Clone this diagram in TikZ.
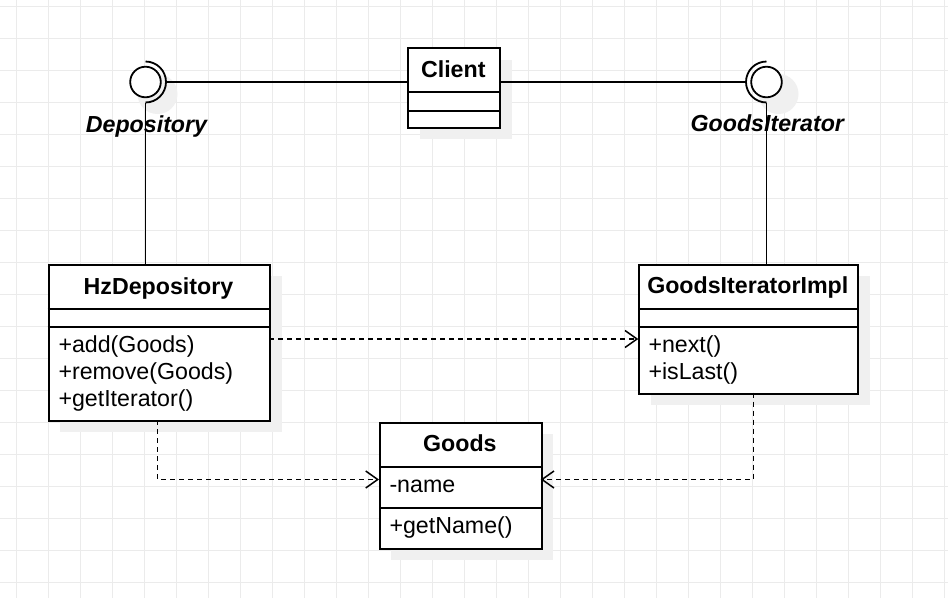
\documentclass[tikz,border=0pt]{standalone}
\usepackage{fontspec}
\setmainfont{Liberation Sans}
\usetikzlibrary{arrows.meta,calc}
\definecolor{gridc}{HTML}{EBEBEB}
\definecolor{shadowc}{HTML}{F0F0F0}
\begin{document}
\begin{tikzpicture}[x=1pt,y=1pt,
  box/.style={draw, line width=1.8pt, fill=white, inner sep=0pt, anchor=north west},
  shadowbox/.style={fill=shadowc, draw=none, inner sep=0pt, anchor=north west},
  hdr/.style={font=\bfseries\fontsize{23.2}{27}\selectfont, anchor=base, inner sep=0pt},
  mem/.style={font=\fontsize{23.2}{27}\selectfont, anchor=base west, inner sep=0pt},
  lbl/.style={font=\bfseries\itshape\fontsize{23.2}{27}\selectfont, anchor=base, inner sep=0pt},
  divider/.style={line width=1.8pt},
  conn/.style={line width=1.8pt},
  dep/.style={line width=1.5pt, dash pattern=on 5pt off 4pt, -{Straight Barb[length=12pt,width=17pt]}},
  iface/.style={circle, draw, line width=1.8pt, fill=white, minimum size=30.6pt, inner sep=0pt},
  ishadow/.style={circle, fill=shadowc, minimum size=40pt, inner sep=0pt}
]
\useasboundingbox (0,0) rectangle (948,-598);
\fill[white] (0,0) rectangle (948,-598);
% grid
\foreach \k in {0,...,29} \draw[gridc, line width=1pt] (16.5+32*\k,0) -- (16.5+32*\k,-598);
\foreach \k in {0,...,18} \draw[gridc, line width=1pt] (0,-6-32*\k) -- (948,-6-32*\k);

% shadows
\node[shadowbox, minimum width=92pt, minimum height=79.4pt] at (419.3,-59.3) {};
\node[shadowbox, minimum width=221.6pt, minimum height=156.3pt] at (59.7,-275.7) {};
\node[shadowbox, minimum width=219pt, minimum height=129pt] at (650.3,-275.7) {};
\node[shadowbox, minimum width=161.7pt, minimum height=126pt] at (391,-433.7) {};
\node[ishadow] at (157.5,-94) {};
\node[ishadow] at (778.5,-94) {};

% interfaces
\node[iface] (ifd) at (145.5,-82) {};
\draw[conn] ($(ifd.center)+(0,20.5)$) arc[start angle=90, end angle=-90, radius=20.5];
\node[iface] (ifg) at (766.5,-82) {};
\draw[conn] ($(ifg.center)+(0,20.5)$) arc[start angle=90, end angle=270, radius=20.5];
\coordinate (ldR) at ($(ifd.center)+(20.5,0)$);
\coordinate (ldB) at ($(ifd.center)+(0,-20.5)$);
\coordinate (rgL) at ($(ifg.center)+(-20.5,0)$);
\coordinate (rgB) at ($(ifg.center)+(0,-20.5)$);
\node[lbl] (lbld) at (146.5,-132.7) {Depository};
\node[lbl] (lblg) at (767.3,-131.7) {GoodsIterator};

% Client
\node[box, minimum width=92pt, minimum height=79.4pt] (client) at (407.3,-47.3) {};
\draw[divider] ([yshift=-45pt]client.north west) -- ([yshift=-45pt]client.north east);
\draw[divider] ([yshift=-63.4pt]client.north west) -- ([yshift=-63.4pt]client.north east);
\node[hdr] (clientt) at (453.3,-77) {Client};

% HzDepository
\node[box, minimum width=221.6pt, minimum height=156.3pt] (hz) at (47.7,-263.7) {};
\draw[divider] ([yshift=-45pt]hz.north west) -- ([yshift=-45pt]hz.north east);
\draw[divider] ([yshift=-63pt]hz.north west) -- ([yshift=-63pt]hz.north east);
\node[hdr] (hzt) at (158.5,-294) {HzDepository};
\node[mem] (hz1) at (58.3,-352.3) {+add(Goods)};
\node[mem] (hz2) at (58.3,-379.3) {+remove(Goods)};
\node[mem] (hz3) at (58.3,-406.3) {+getIterator()};

% GoodsIteratorImpl
\node[box, minimum width=219pt, minimum height=129pt] (gi) at (638.3,-263.7) {};
\draw[divider] ([yshift=-45pt]gi.north west) -- ([yshift=-45pt]gi.north east);
\draw[divider] ([yshift=-63pt]gi.north west) -- ([yshift=-63pt]gi.north east);
\node[hdr] (git) at (747.8,-293.5) {GoodsIteratorImpl};
\node[mem] (gi1) at (648.3,-352.3) {+next()};
\node[mem] (gi2) at (648.3,-379.3) {+isLast()};

% Goods
\node[box, minimum width=161.7pt, minimum height=126pt] (goods) at (379,-421.7) {};
\draw[divider] ([yshift=-45pt]goods.north west) -- ([yshift=-45pt]goods.north east);
\draw[divider] ([yshift=-86.6pt]goods.north west) -- ([yshift=-86.6pt]goods.north east);
\node[hdr] (goodst) at (459.9,-451.7) {Goods};
\node[mem] (go1) at (389.3,-492.7) {-name};
\node[mem] (go2) at (389.3,-533.3) {+getName()};

% solid connectors
\draw[conn] (ldR) -- (ldR -| client.west);
\draw[conn] (rgL) -- (rgL -| client.east);
\draw[conn] (ldB) -- (ldB |- hz.north);
\draw[conn] (rgB) -- (rgB |- gi.north);

% dependencies
\coordinate (d1) at (269.3,-339);
\draw[dep] (d1) -- (d1 -| gi.west);
\coordinate (d2) at (157.7,-420);
\coordinate (g1) at (379,-479.5);
\draw[dep] (d2) |- (g1);
\coordinate (d3) at (753.3,-392.7);
\coordinate (g2) at (540.7,-479.5);
\draw[dep] (d3) |- (g2);
\end{tikzpicture}
\end{document}
